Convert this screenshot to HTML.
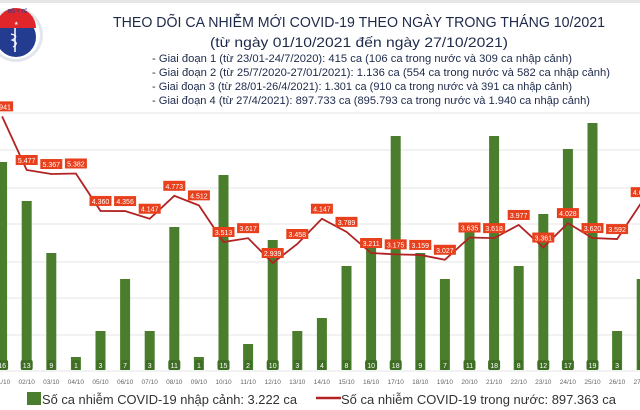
<!DOCTYPE html>
<html><head><meta charset="utf-8"><style>
html,body{margin:0;padding:0;background:#fff;width:640px;height:410px;overflow:hidden}
svg{display:block;font-family:"Liberation Sans",sans-serif}
</style></head><body>
<svg width="640" height="410" viewBox="0 0 640 410" xmlns="http://www.w3.org/2000/svg">
<rect x="0" y="0" width="640" height="410" fill="#fff"/>
<rect x="0" y="0" width="640" height="3" fill="#e6e6e6"/>
<!-- logo -->
<circle cx="16" cy="35" r="27" fill="#e4e6ee"/>
<circle cx="16" cy="35" r="24" fill="#fff"/>
<circle cx="16" cy="37" r="20" fill="#233c8f"/>
<path d="M-4 28 A20 20 0 0 1 36 28 Z" fill="#e0262a"/>
<text x="14" y="25" font-size="5" fill="#fff">★</text>
<line x1="15" y1="28" x2="15" y2="52" stroke="#fff" stroke-width="1.5"/>
<path d="M11 34 Q20 36 12 40 Q20 43 13 47" stroke="#fff" fill="none" stroke-width="1.2"/>
<text x="8" y="13" font-size="5" fill="#233c8f">BỘ Y TẾ</text>
<!-- title -->
<g fill="#1d2a4a">
<text x="113" y="27" font-size="15" textLength="492" lengthAdjust="spacingAndGlyphs">THEO DÕI CA NHIỄM MỚI COVID-19 THEO NGÀY TRONG THÁNG 10/2021</text>
<text x="210" y="47" font-size="14" textLength="298" lengthAdjust="spacingAndGlyphs">(từ ngày 01/10/2021 đến ngày 27/10/2021)</text>
<text x="152" y="62" font-size="11" textLength="420" lengthAdjust="spacingAndGlyphs">- Giai đoạn 1 (từ 23/01-24/7/2020): 415 ca (106 ca trong nước và 309 ca nhập cảnh)</text>
<text x="152" y="76" font-size="11" textLength="458" lengthAdjust="spacingAndGlyphs">- Giai đoạn 2 (từ 25/7/2020-27/01/2021): 1.136 ca (554 ca trong nước và 582 ca nhập cảnh)</text>
<text x="152" y="90" font-size="11" textLength="420" lengthAdjust="spacingAndGlyphs">- Giai đoạn 3 (từ 28/01-26/4/2021): 1.301 ca (910 ca trong nước và 391 ca nhập cảnh)</text>
<text x="152" y="104" font-size="11" textLength="438" lengthAdjust="spacingAndGlyphs">- Giai đoạn 4 (từ 27/4/2021): 897.733 ca (895.793 ca trong nước và 1.940 ca nhập cảnh)</text>
</g>
<!-- grid -->
<g stroke="#e4e4e4" stroke-width="1">
<line x1="0" y1="113" x2="640" y2="113"/><line x1="0" y1="150" x2="640" y2="150"/>
<line x1="0" y1="188" x2="640" y2="188"/><line x1="0" y1="224" x2="640" y2="224"/>
<line x1="0" y1="262" x2="640" y2="262"/><line x1="0" y1="298" x2="640" y2="298"/>
<line x1="0" y1="335" x2="640" y2="335"/><line x1="0" y1="371" x2="640" y2="371"/>
</g>
<g id="chart"></g>
<!-- legend -->
<rect x="27" y="392" width="14" height="13" fill="#4a7d2c"/>
<text x="42" y="404" font-size="12.5" fill="#333" textLength="255" lengthAdjust="spacingAndGlyphs">Số ca nhiễm COVID-19 nhập cảnh: 3.222 ca</text>
<line x1="316" y1="398" x2="341" y2="398" stroke="#b22222" stroke-width="2.5"/>
<text x="341" y="404" font-size="12.5" fill="#333" textLength="275" lengthAdjust="spacingAndGlyphs">Số ca nhiễm COVID-19 trong nước: 897.363 ca</text>
</svg>
<script>
var bars=[16,13,9,1,3,7,3,11,1,15,2,10,3,4,8,10,18,9,7,11,18,8,12,17,19,3,7];
var line=[6941,5477,5367,5382,4360,4356,4147,4773,4512,3513,3617,2939,3458,4147,3789,3211,3175,3159,3027,3635,3618,3977,3361,4028,3620,3592,4600];
var g=document.getElementById('chart'),ns='http://www.w3.org/2000/svg',s='';
function X(i){return 2.1+i*24.6;}
function Y(v){return 170+(5477-v)*0.03664;}
for(var i=0;i<27;i++){var x=X(i),h=bars[i]*13;
s+='<rect x="'+(x-5)+'" y="'+(370-h)+'" width="10" height="'+h+'" fill="#4a7d2c"/>';
var lbl=String(bars[i]),bw=lbl.length>1?12:8;
s+='<rect x="'+(x-bw/2)+'" y="360" width="'+bw+'" height="10" rx="2" fill="#3f6e25"/>';
s+='<text x="'+x+'" y="368" font-size="7" fill="#fff" text-anchor="middle">'+lbl+'</text>';
var d=(i+1<10?'0':'')+(i+1)+'/10';
s+='<text x="'+x+'" y="384" font-size="6.5" fill="#666" text-anchor="middle">'+d+'</text>';}
var pts=line.map(function(v,i){return X(i)+','+Y(v)}).join(' ');
s+='<polyline points="'+pts+'" fill="none" stroke="#b22222" stroke-width="1.8"/>';
for(var i=0;i<27;i++){var x=X(i),y=Y(line[i])-10;var t=(line[i]/1000).toFixed(3);
s+='<rect x="'+(x-11)+'" y="'+(y-5)+'" width="22" height="10" fill="#e8401c"/>';
s+='<text x="'+x+'" y="'+(y+3)+'" font-size="7" fill="#fff" text-anchor="middle">'+t+'</text>';}
g.innerHTML=s;
</script>
</body></html>
